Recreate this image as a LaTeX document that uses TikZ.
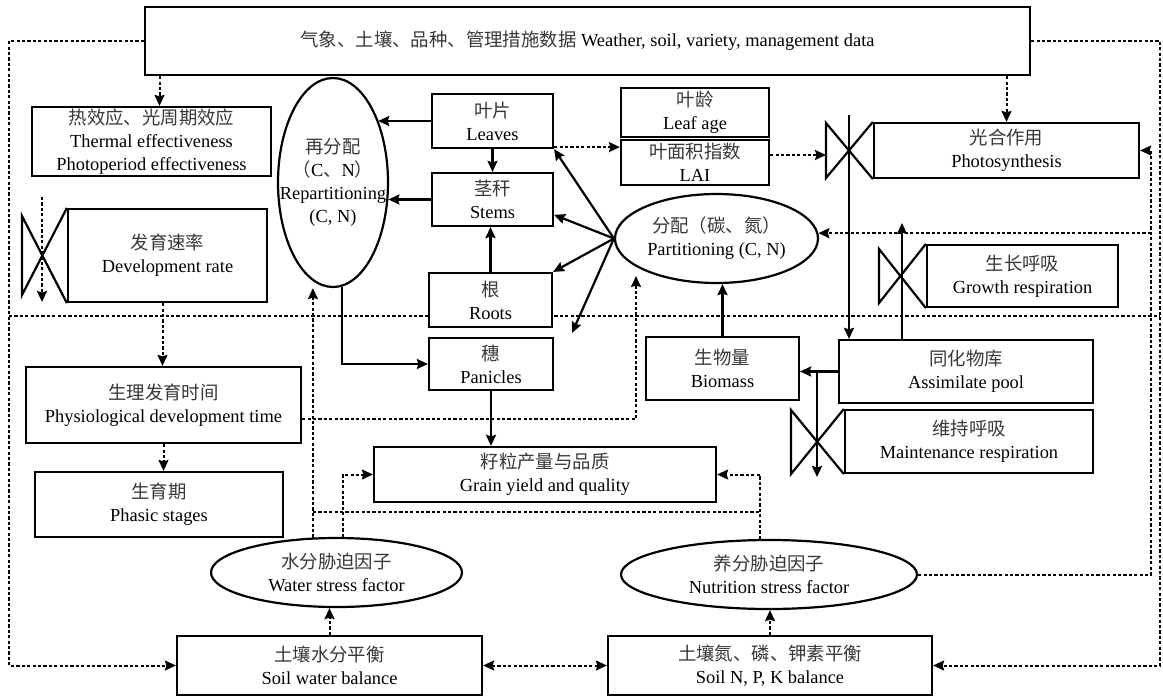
\documentclass[tikz,border=0pt]{standalone}
\usepackage{fontspec}
\setmainfont{Liberation Serif}
\newfontfamily\cjk{Noto Sans CJK SC}
\newcommand\zh[1]{{\cjk\color{black!78}#1}}
\usetikzlibrary{shapes.geometric,arrows.meta,calc}
\begin{document}
\begin{tikzpicture}[x=1pt,y=-1pt,
  every node/.style={font=\fontsize{18.4}{23}\selectfont, inner sep=0pt},
  box/.style={draw, line width=2.2pt, fill=white, align=center},
  oval/.style={draw, ellipse, line width=2.2pt, fill=white, align=center, inner sep=0pt},
  tip/.tip={Stealth[length=11pt,width=10pt,inset=1.5pt]},
  sol/.style={line width=2.2pt, -tip},
  dotline/.style={line width=2pt, dash pattern=on 3.2pt off 2.2pt},
  dot/.style={dotline, -tip},
  dotboth/.style={dotline, tip-tip},
  valve/.style={line width=2.2pt, line join=miter}]
\fill[white] (0,0) rectangle (1163,697);
\useasboundingbox (0,0) rectangle (1163,697);
% helper coordinates
\coordinate (L) at (9,43);
\coordinate (R) at (1160,43);
\coordinate (IR) at (1151,316);
\coordinate (divL) at (9,316);
\coordinate (divR) at (1160,316);
\draw[dotline] (divL) -- (divR);
% nodes
\node[box, minimum width=885pt, minimum height=68pt] (top) at (587.5,41) {\zh{气象、土壤、品种、管理措施数据} Weather, soil, variety, management data};
\node[box, minimum width=239pt, minimum height=69pt] (therm) at (151.5,141.5) {\zh{热效应、光周期效应}\\Thermal effectiveness\\Photoperiod effectiveness};
\node[box, minimum width=199pt, minimum height=93pt] (dev) at (167.5,255.5) {\zh{发育速率}\\Development rate};
\node[box, minimum width=275pt, minimum height=76pt] (pdt) at (163.5,405) {\zh{生理发育时间}\\Physiological development time};
\node[box, minimum width=248pt, minimum height=65pt] (phasic) at (159,504.5) {\zh{生育期}\\Phasic stages};
\node[oval, minimum width=110pt, minimum height=209pt] (rep) at (333,182.5) {};
\node[align=center] (repT) at (rep.center) {\zh{再分配}\\\zh{（}C\zh{、}N\zh{）}\\Repartitioning\\(C, N)};
\node[box, minimum width=121pt, minimum height=54pt] (leaves) at (492.5,121) {\zh{叶片}\\Leaves};
\node[box, minimum width=121pt, minimum height=53pt] (stems) at (492.5,199.5) {\zh{茎秆}\\Stems};
\node[box, minimum width=123pt, minimum height=54pt] (roots) at (490.5,300) {\zh{根}\\Roots};
\node[box, minimum width=124pt, minimum height=52pt] (panicles) at (491,364) {\zh{穗}\\Panicles};
\node[box, minimum width=148pt, minimum height=49pt] (leafage) at (695,112.5) {\zh{叶龄}\\Leaf age};
\node[box, minimum width=148pt, minimum height=45pt] (lai) at (695,162.5) {\zh{叶面积指数}\\LAI};
\node[oval, minimum width=203pt, minimum height=89pt] (part) at (716.5,238.5) {\zh{分配（碳、氮）}\\Partitioning (C, N)};
\node[box, minimum width=265pt, minimum height=55pt] (photo) at (1006.5,150.5) {\zh{光合作用}\\Photosynthesis};
\node[box, minimum width=191pt, minimum height=62pt] (growth) at (1022.5,276) {\zh{生长呼吸}\\Growth respiration};
\node[box, minimum width=254pt, minimum height=63pt] (assim) at (966,371.5) {\zh{同化物库}\\Assimilate pool};
\node[box, minimum width=153pt, minimum height=63pt] (biomass) at (722.5,368.5) {\zh{生物量}\\Biomass};
\node[box, minimum width=248pt, minimum height=63pt] (maint) at (969,441.5) {\zh{维持呼吸}\\Maintenance respiration};
\node[box, minimum width=342pt, minimum height=55pt] (grain) at (545,474.5) {\zh{籽粒产量与品质}\\Grain yield and quality};
\node[oval, minimum width=251pt, minimum height=69pt] (water) at (336.5,572.5) {\zh{水分胁迫因子}\\Water stress factor};
\node[oval, minimum width=296pt, minimum height=69pt] (nutr) at (769,574.5) {\zh{养分胁迫因子}\\Nutrition stress factor};
\node[box, minimum width=305pt, minimum height=59pt] (soilw) at (329.5,665.5) {\zh{土壤水分平衡}\\Soil water balance};
\node[box, minimum width=324pt, minimum height=59pt] (soiln) at (770,665.5) {\zh{土壤氮、磷、钾素平衡}\\Soil N, P, K balance};
% valves
\draw[valve] (dev.north west) -- (22,295) -- (22,216) -- (dev.south west);
\draw[valve] (photo.north west) -- (826,178) -- (826,123) -- (photo.south west);
\draw[valve] (growth.north west) -- (879,303) -- (879,249) -- (growth.south west);
\draw[valve] (maint.north west) -- (791,474) -- (791,410) -- (maint.south west);
% solid connectors
\coordinate (ps) at (849,115);
\coordinate (gt) at (902,223);
\coordinate (mt) at (817,477);
\coordinate (pf) at (572,333);
\draw[sol] (ps) -- (ps |- assim.north);
\draw[sol] (gt |- assim.north) -- (gt);
\draw[sol] (assim.west) -- (assim.west -| biomass.east);
\draw[sol] (mt |- assim.west) -- (mt);
\draw[sol] (biomass.north) -- (biomass.north |- part.south);
\draw[sol] (part.west) -- (leaves.south east);
\draw[sol] (part.west) -- (stems.-14);
\draw[sol] (part.west) -- (roots.north east);
\draw[sol] (part.west) -- (pf);
\draw[sol] (leaves.west) -- (rep.54 |- leaves.west);
\draw[sol] (stems.west) -- (rep.-17 |- stems.west);
\draw[sol] (leaves.south) -- (stems.north);
\draw[sol] (roots.north) -- (roots.north |- stems.south);
\draw[sol] (rep.-85) |- (panicles.west);
\draw[sol] (panicles.south) -- (panicles.south |- grain.north);
% dotted connectors
\coordinate (t1) at ($(therm.north)+(8,0)$);
\draw[dot] (t1 |- top.south) -- (t1);
\coordinate (d1) at ($(dev.south)+(-5,0)$);
\draw[dot] (d1) -- (d1 |- pdt.north);
\draw[dot] (pdt.south) -- (pdt.south |- phasic.north);
\coordinate (dv1) at (42,197);
\coordinate (dv2) at (42,302);
\draw[dot] (dv1) -- (dv2);
\draw[dot] (photo.north |- top.south) -- (photo.north);
\draw[dot] (top.west) -- (top.west -| L) -- (L |- soilw.west) -- (soilw.west);
\draw[dot] (top.east) -- (top.east -| R) -- (R |- soiln.east) -- (soiln.east);
\draw[dot] (nutr.east) -- (nutr.east -| IR) -- (IR |- photo.east) -- (photo.east);
\draw[dot] (IR |- part.3) -- (part.3);
\coordinate (la) at ($(leaves.south east)+(0,-2)$);
\draw[dot] (la) -- (la -| lai.west);
\coordinate (pv) at (826,155);
\draw[dot] (lai.east |- pv) -- (pv);
\draw[dotboth] (soilw.east) -- (soiln.west);
\draw[dot] (soilw.north) -- (soilw.north |- water.south);
\draw[dot] (soiln.north) -- (soiln.north |- nutr.south);
\draw[dot] (water.124.7) -- (water.124.7 |- rep.south);
\draw[dot] (water.80.9) |- (grain.west);
\draw[dot] (nutr.104.7) |- (grain.east);
\coordinate (h) at (0,512);
\draw[dotline] (water.124.7 |- h) -- (nutr.104.7 |- h);
\coordinate (p1) at ($(pdt.east)+(0,14)$);
\coordinate (pt) at (636,276);
\draw[dot] (p1) -| (pt);
\end{tikzpicture}
\end{document}
